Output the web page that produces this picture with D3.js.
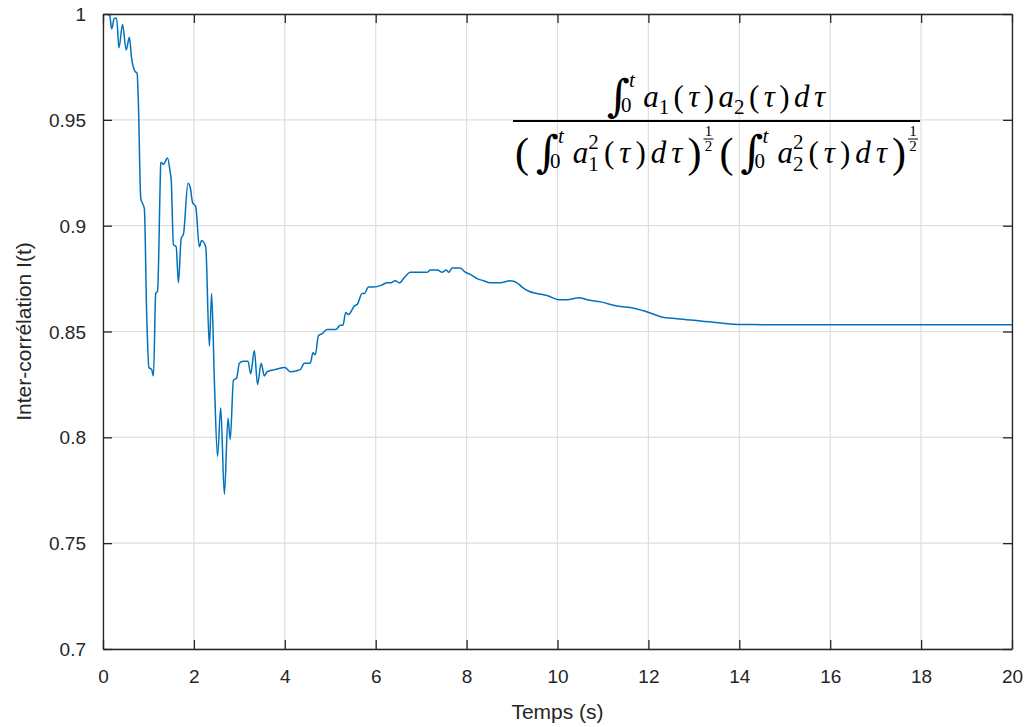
<!DOCTYPE html>
<html><head><meta charset="utf-8">
<script src="https://cdn.jsdelivr.net/npm/d3@7"></script>
<style>body{margin:0;background:#fff}svg{display:block}</style>
</head><body><svg id="chart" width="1026" height="727"></svg>
<script>
const times = [0,0.10,0.15,0.19,0.25,0.30,0.35,0.43,0.51,0.58,0.63,0.70,0.75,0.78,0.83,0.91,0.96,1.01,1.07,1.11,1.16,1.20,1.26,1.27,1.33,1.42,1.48,1.50,1.55,1.61,1.66,1.72,1.77,1.87,1.92,1.97,2.04,2.12,2.17,2.26,2.34,2.39,2.45,2.52,2.59,2.67,2.75,2.80,2.87,2.94,3.00,3.09,3.19,3.25,3.33,3.40,3.48,3.55,3.61,3.79,4.00,4.12,4.34,4.43,4.56,4.62,4.67,4.74,4.82,4.93,5.04,5.13,5.22,5.28,5.34,5.40,5.53,5.60,5.70,5.75,5.84,5.95,6.14,6.25,6.32,6.43,6.52,6.65,6.76,6.91,7.13,7.20,7.31,7.36,7.46,7.55,7.61,7.68,7.86,7.97,8.08,8.23,8.37,8.52,8.74,8.96,9.11,9.22,9.37,9.55,9.77,10.03,10.21,10.47,10.65,10.95,11.31,11.68,12.01,12.27,12.63,13.15,13.59,14.03,15,16,17,18,19,20];
const correlation = [1.000,1.000,0.999,0.993,0.998,0.998,0.984,0.995,0.983,0.989,0.979,0.973,0.972,0.957,0.913,0.908,0.859,0.833,0.832,0.829,0.868,0.869,0.922,0.930,0.929,0.932,0.925,0.922,0.891,0.890,0.873,0.894,0.896,0.920,0.918,0.911,0.909,0.890,0.893,0.890,0.843,0.868,0.827,0.791,0.814,0.773,0.809,0.799,0.827,0.828,0.835,0.836,0.836,0.830,0.841,0.825,0.835,0.829,0.831,0.832,0.833,0.831,0.832,0.835,0.835,0.840,0.839,0.848,0.849,0.851,0.851,0.851,0.853,0.853,0.859,0.858,0.862,0.863,0.868,0.868,0.871,0.871,0.872,0.873,0.873,0.874,0.873,0.876,0.878,0.878,0.878,0.879,0.879,0.879,0.878,0.879,0.878,0.880,0.880,0.878,0.877,0.875,0.874,0.873,0.873,0.874,0.873,0.871,0.869,0.868,0.867,0.865,0.865,0.866,0.865,0.864,0.862,0.861,0.859,0.857,0.856,0.855,0.854,0.8533,0.8532,0.8532,0.8532,0.8532,0.8532,0.8532];
const xTicks = [0,2,4,6,8,10,12,14,16,18,20];
const yTicks = [0.7,0.75,0.8,0.85,0.9,0.95,1];
const yTickLabels = ["0.7","0.75","0.8","0.85","0.9","0.95","1"];
const xLabel = "Temps (s)";
const yLabel = "Inter-corrélation I(t)";

const svg = d3.select("#chart");
const L=103, T=14, R=1012, B=649;
const ink="#262626", font="'Liberation Sans', Arial, sans-serif";
const x = d3.scaleLinear().domain([0,20]).range([L,R]);
const y = d3.scaleLinear().domain([0.7,1]).range([B,T]);

// grid
svg.append("g").selectAll("line").data(xTicks).join("line")
  .attr("x1",d=>x(d)).attr("x2",d=>x(d)).attr("y1",T).attr("y2",B)
  .attr("stroke","#dedede").attr("stroke-width",1.2);
svg.append("g").selectAll("line").data(yTicks).join("line")
  .attr("y1",d=>y(d)).attr("y2",d=>y(d)).attr("x1",L).attr("x2",R)
  .attr("stroke","#dedede").attr("stroke-width",1.2);

// clip + line
svg.append("clipPath").attr("id","clip").append("rect")
  .attr("x",L).attr("y",T).attr("width",R-L).attr("height",B-T);
const data = times.map((t,i)=>[t,correlation[i]]);
svg.append("path").datum(data).attr("clip-path","url(#clip)")
  .attr("fill","none").attr("stroke","#0072BD").attr("stroke-width",1.5)
  .attr("stroke-linejoin","round")
  .attr("d",d3.line().x(d=>x(d[0])).y(d=>y(d[1])).curve(d3.curveMonotoneX));

// axes (ticks inward)
const tl=9;
const ax = svg.append("g").attr("transform",`translate(0,${B})`)
  .call(d3.axisBottom(x).tickValues(xTicks).tickSizeInner(-tl).tickSizeOuter(0).tickPadding(tl+12));
const axT = svg.append("g").attr("transform",`translate(0,${T})`)
  .call(d3.axisTop(x).tickValues(xTicks).tickSizeInner(-tl).tickSizeOuter(0).tickFormat(""));
const ay = svg.append("g").attr("transform",`translate(${L},0)`)
  .call(d3.axisLeft(y).tickValues(yTicks).tickSizeInner(-tl).tickSizeOuter(0).tickPadding(tl+8)
    .tickFormat((d,i)=>yTickLabels[i]));
const ayR = svg.append("g").attr("transform",`translate(${R},0)`)
  .call(d3.axisRight(y).tickValues(yTicks).tickSizeInner(-tl).tickSizeOuter(0).tickFormat(""));
[ax,axT,ay,ayR].forEach(g=>{
  g.select(".domain").attr("stroke",ink).attr("stroke-width",1.3);
  g.selectAll(".tick line").attr("stroke",ink).attr("stroke-width",1.3);
  g.selectAll("text").attr("fill",ink).style("font-family",font).style("font-size","19px");
});
ay.selectAll("text").attr("dy","0.35em");

svg.append("text").attr("x",(L+R)/2).attr("y",719).attr("text-anchor","middle")
  .attr("fill",ink).style("font-family",font).style("font-size","21px").text(xLabel);
svg.append("text").attr("transform",`translate(31,${(T+B)/2}) rotate(-90)`).attr("text-anchor","middle")
  .attr("fill",ink).style("font-family",font).style("font-size","21px").text(yLabel);

// formula (LaTeX-like, built from text pieces)
const serif="'Liberation Serif','DejaVu Serif',serif";
const FS=31, SS=21;
function builder(g, baseline, extra){
  let cx=0, n=0;
  const api={
    txt(s,opt={}){
      const t=g.append("text").attr("x",cx).attr("y",baseline+(opt.dy||0))
        .style("font-family",opt.family||serif).style("font-size",(opt.size||FS)+"px")
        .style("font-style",opt.italic?"italic":"normal").attr("fill","#000").text(s);
      const w=t.node().getComputedTextLength();
      cx+=w+(opt.gap||0)+(opt.fixed?0:extra); if(!opt.fixed) n++;
      return w;
    },
    stack(top,bot,opt={}){
      const x0=cx;
      const t1=g.append("text").attr("x",x0+(opt.topdx||0)).attr("y",baseline-(opt.up||14))
        .style("font-family",serif).style("font-size",SS+"px").style("font-style",opt.topItalic?"italic":"normal").text(top);
      const t2=g.append("text").attr("x",x0+(opt.botdx||0)).attr("y",baseline+(opt.down||7))
        .style("font-family",serif).style("font-size",SS+"px").text(bot);
      const w=Math.max(t1.node().getComputedTextLength()+(opt.topdx||0),t2.node().getComputedTextLength()+(opt.botdx||0));
      cx+=w+(opt.gap||0)+extra; n++;
    },
    half(){
      const fs=15, x0=cx+2, yb=baseline-24;
      g.append("text").attr("x",x0+5).attr("y",yb-3).attr("text-anchor","middle").style("font-family",serif).style("font-size",fs+"px").text("1");
      g.append("line").attr("x1",x0).attr("x2",x0+10).attr("y1",yb).attr("y2",yb).attr("stroke","#000").attr("stroke-width",1);
      g.append("text").attr("x",x0+5).attr("y",yb+12).attr("text-anchor","middle").style("font-family",serif).style("font-size",fs+"px").text("2");
      cx+=14;
    },
    space(w){cx+=w;},
    width(){return cx;},
    count(){return n;}
  };
  return api;
}
function integral(b){
  b.txt("∫",{size:44,family:"'DejaVu Serif',serif",gap:-3,dy:4,fixed:true});
  b.stack("t","0",{topItalic:true,up:20,down:5,topdx:2,botdx:-6,gap:4});
}
function layout(parent, baseline, left, width, draw){
  let g=parent.append("g"); let b=builder(g,baseline,0); draw(b);
  const extra=Math.max(0,(width-b.width())/Math.max(1,b.count()-1));
  g.remove();
  g=parent.append("g").attr("transform",`translate(${left},0)`);
  b=builder(g,baseline,extra); draw(b);
  return g;
}
layout(svg,107,607,218,nb=>{
  integral(nb);
  nb.txt("a",{italic:true,fixed:true}); nb.txt("1",{size:SS,dy:7});
  nb.txt("(");nb.txt("τ",{italic:true});nb.txt(")");
  nb.txt("a",{italic:true,fixed:true}); nb.txt("2",{size:SS,dy:7});
  nb.txt("(");nb.txt("τ",{italic:true});nb.txt(")");
  nb.txt("d",{italic:true});nb.txt("τ",{italic:true});
});

svg.append("line").attr("x1",513).attr("x2",920).attr("y1",121).attr("y2",121).attr("stroke","#000").attr("stroke-width",2);

layout(svg,163,515,400,db=>{
  function piece(idx){
    db.txt("(",{size:42,dy:4,gap:2});
    integral(db);
    db.txt("a",{italic:true,fixed:true});
    db.stack("2",idx,{up:14,down:8,gap:0});
    db.txt("(");db.txt("τ",{italic:true});db.txt(")");
    db.txt("d",{italic:true});db.txt("τ",{italic:true});
    db.txt(")",{size:42,dy:4,fixed:true});
    db.half();
  }
  piece("1"); db.space(4); piece("2");
});
</script></body></html>
